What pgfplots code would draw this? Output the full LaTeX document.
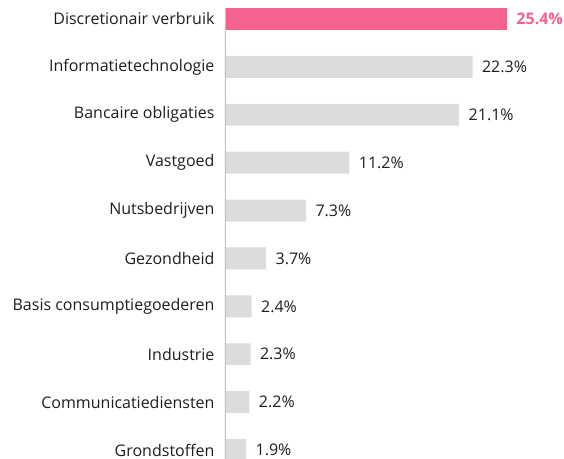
\documentclass[border=0pt]{standalone}
\usepackage{pgfplots}
\pgfplotsset{compat=1.18}
\usepackage{fontspec}
\setmainfont{Open Sans}
\definecolor{hl}{HTML}{F5628D}
\definecolor{barg}{HTML}{DCDCDC}
\definecolor{axl}{HTML}{F6A6C1}
\definecolor{txt}{HTML}{1E1E1E}
\begin{document}
\begin{tikzpicture}
\begin{axis}[
  scale only axis, width=339pt, height=459pt,
  xmin=0, xmax=30.54,
  ymin=-0.396, ymax=9.1875, y dir=reverse,
  axis line style={draw=none},
  xtick=\empty,
  ytick={0,...,9},
  yticklabels={Discretionair verbruik,Informatietechnologie,Bancaire obligaties,Vastgoed,Nutsbedrijven,Gezondheid,Basis consumptiegoederen,Industrie,Communicatiediensten,Grondstoffen},
  major tick length=0pt,
  yticklabel style={font=\fontsize{16}{18}\selectfont, text=txt, xshift=-7pt},
  xbar, bar width=0.458, bar shift=0pt,
  /pgf/number format/assume math mode=true,
  point meta=x,
  nodes near coords={\pgfmathprintnumber[fixed,precision=1,fixed zerofill]{\pgfplotspointmeta}\%},
  nodes near coords align={horizontal},
  every node near coord/.append style={font=\fontsize{16}{18}\selectfont, text=txt, anchor=west, xshift=6pt},
]
\addplot[fill=hl, draw=none, every node near coord/.append style={text=hl, font=\fontsize{16}{18}\selectfont\bfseries}] coordinates {(25.4,0)};
\addplot[fill=barg, draw=none] coordinates {(22.3,1) (21.1,2) (11.2,3) (7.3,4) (3.7,5) (2.4,6) (2.3,7) (2.2,8) (1.9,9)};
\draw[axl, line width=1.5pt] (axis cs:0,-0.229) -- (axis cs:0,9.1875);
\end{axis}
\pgfresetboundingbox
\path (current axis.south west) ++(-225pt,0) rectangle (current axis.north east);
\end{tikzpicture}
\end{document}
